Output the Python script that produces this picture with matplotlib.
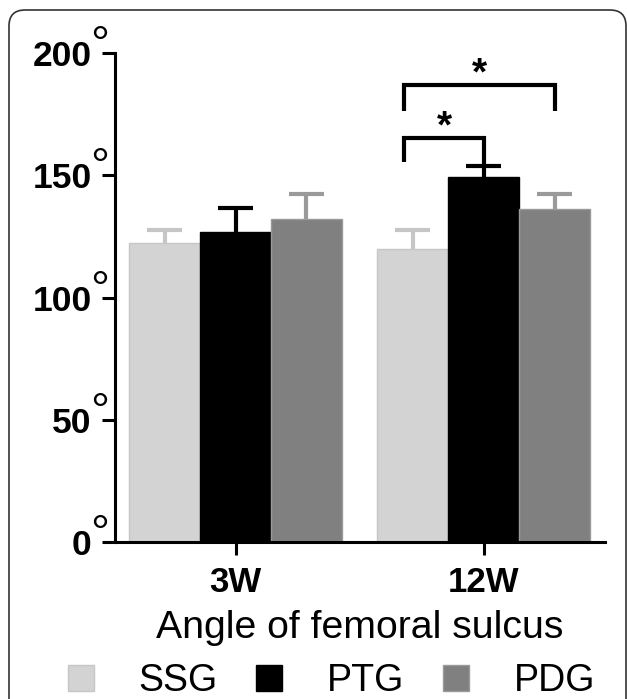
## Angle of femoral sulcus: grouped bars (mean + SEM) at 3W and 12W.

import numpy as np
import matplotlib.pyplot as plt
from matplotlib.patches import FancyBboxPatch

plt.rcParams['font.family'] = ['Liberation Sans', 'DejaVu Sans']

## data
groups = ['3W', '12W']
series = ['SSG', 'PTG', 'PDG']
ssg_mean = [122.3, 119.7]
ssg_err = [5.2, 7.8]
ptg_mean = [127.0, 149.3]
ptg_err = [9.8, 4.4]
pdg_mean = [132.1, 136.2]
pdg_err = [10.4, 6.3]
yticks = [0, 50, 100, 150, 200]

## significance brackets in the 12W group: (bar a, bar b), top, left leg end, right leg end
sig_pairs = [(0, 1), (0, 2)]
sig_top = [165.2, 186.9]
sig_left_end = [155.7, 176.2]
sig_right_end = [153.7, 176.2]

means = [ssg_mean, ptg_mean, pdg_mean]
errs = [ssg_err, ptg_err, pdg_err]
colors = ['#d3d3d3', '#000000', '#808080']
edges = ['#c6c6c6', '#000000', '#9a9a9a']

fig = plt.figure(figsize=(6.27, 6.99), dpi=100)
ax = fig.add_axes([0.1834, 0.225, 0.7815, 0.6987])

centers = np.array([0.0, 3.5])
offsets = [-1, 0, 1]
cap = 0.245
bars = []
for k in range(len(series)):
  x = centers + offsets[k]
  m = np.array(means[k])
  top = m + np.array(errs[k])
  b = ax.bar(x, m, width=1.0, color=colors[k], edgecolor=edges[k],
             linewidth=1.0, label=series[k], zorder=2)
  ax.vlines(x, m, top, color=edges[k], linewidth=3, zorder=1)
  ax.hlines(top, x - cap, x + cap, color=edges[k], linewidth=3, zorder=1)
  bars.append(b)

## brackets and stars
for n in range(len(sig_pairs)):
  i, j = sig_pairs[n]
  x1 = centers[1] + offsets[i] - 0.12
  x2 = centers[1] + offsets[j]
  ax.plot([x1, x1, x2, x2], [sig_left_end[n], sig_top[n], sig_top[n], sig_right_end[n]],
          color='black', linewidth=3, solid_joinstyle='miter', solid_capstyle='butt',
          clip_on=False, zorder=3)
  ax.text((x1 + x2) / 2, sig_top[n] + 0.3, '*', ha='center', va='baseline',
          fontsize=28, fontweight='bold')

ax.set_xlim(-1.7, 5.21)
ax.set_ylim(0, 200)
ax.set_yticks(yticks)
ax.set_yticklabels([str(v) for v in yticks], fontsize=25.5, fontweight='bold')
ax.set_xticks(centers)
ax.set_xticklabels(groups, fontsize=25, fontweight='bold')
ax.tick_params(axis='both', direction='out', length=9.4, width=2.2, color='black')
ax.tick_params(axis='y', pad=7.5)
ax.tick_params(axis='x', pad=8)
for s in ['top', 'right']:
  ax.spines[s].set_visible(False)
for s in ['left', 'bottom']:
  ax.spines[s].set_linewidth(2.2)
ax.set_xlabel('Angle of femoral sulcus', fontsize=28.3, labelpad=8)

## degree signs raised beside each y tick label
for v in yticks:
  ax.annotate('\u00b0', xy=(0, v), xycoords=('axes fraction', 'data'),
              xytext=(-15, -6), textcoords='offset pixels', ha='center',
              va='baseline', fontsize=34)

fig.legend(bars, series, loc='center', bbox_to_anchor=(0.529, 0.026), ncol=3,
           frameon=False, fontsize=27, handlelength=0.69, handleheight=0.69,
           handletextpad=1.2, columnspacing=1.03, borderaxespad=0, borderpad=0)

## rounded panel frame, open at the bottom
frame = FancyBboxPatch((9, -30), 617, 719, boxstyle='round,pad=0,rounding_size=16',
                       transform=None, fill=False, linewidth=1.2, edgecolor='#333333')
fig.add_artist(frame)

plt.savefig('out.png', dpi=100)
